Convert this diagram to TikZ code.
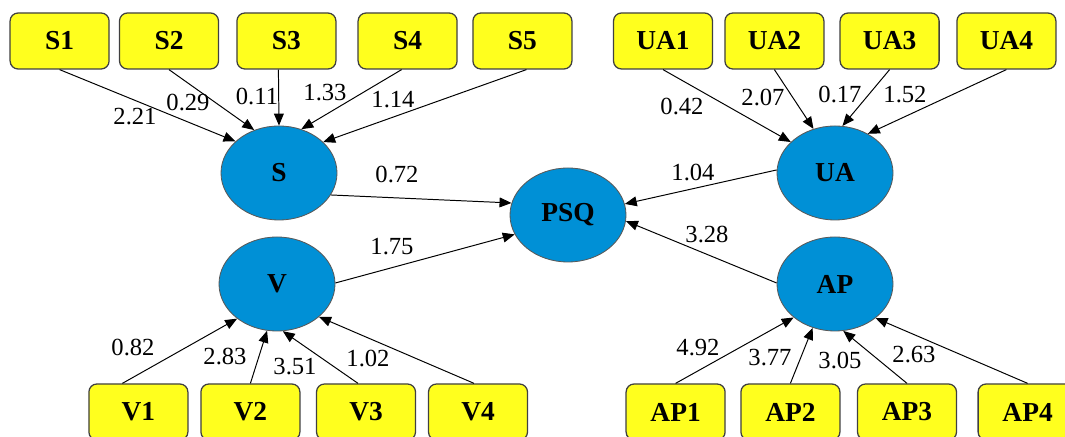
\documentclass[tikz,border=0pt]{standalone}
\usepackage{fontspec}
\setmainfont{Liberation Serif}
\usetikzlibrary{arrows.meta,shapes.geometric}
\definecolor{itemyellow}{RGB}{255,255,30}
\definecolor{latentblue}{RGB}{0,144,214}

\begin{document}
\begin{tikzpicture}[
    item/.style={draw=black!75, line width=0.9pt, fill=itemyellow, rounded corners=2mm,
        minimum width=2.475cm, minimum height=1.4cm, inner sep=0pt,
        font=\fontsize{19.5}{22}\selectfont\bfseries},
    latent/.style={ellipse, draw=black!65, line width=0.6pt, fill=latentblue,
        minimum width=2.9cm, minimum height=2.35cm, inner sep=0pt,
        font=\fontsize{19.5}{22}\selectfont\bfseries},
    wt/.style={inner sep=0pt, font=\fontsize{17.5}{20}\selectfont},
    path/.style={draw, line width=0.7pt, -{Triangle[length=8.5pt,width=7pt]}}
]
    \useasboundingbox (0,0) rectangle (26.625,10.925);
    \clip (0,0) rectangle (26.625,10.925);

    % Latent constructs
    \node[latent] (S) at (6.975, 6.6) {S};
    \node[latent] (V) at (6.925, 3.825) {V};
    \node[latent] (PSQ) at (14.2, 5.55) {PSQ};
    \node[latent] (UA) at (20.875, 6.6) {UA};
    \node[latent] (AP) at (20.875, 3.825) {AP};

    % Top indicators
    \node[item] (S1) at (1.49, 9.9) {S1};
    \node[item] (S2) at (4.225, 9.9) {S2};
    \node[item] (S3) at (7.16, 9.9) {S3};
    \node[item] (S4) at (10.19, 9.9) {S4};
    \node[item] (S5) at (13.06, 9.9) {S5};
    \node[item] (UA1) at (16.575, 9.9) {UA1};
    \node[item] (UA2) at (19.36, 9.9) {UA2};
    \node[item] (UA3) at (22.24, 9.9) {UA3};
    \node[item] (UA4) at (25.16, 9.9) {UA4};

    % Bottom indicators
    \node[item] (V1) at (3.46, 0.625) {V1};
    \node[item] (V2) at (6.26, 0.625) {V2};
    \node[item] (V3) at (9.15, 0.625) {V3};
    \node[item] (V4) at (11.95, 0.625) {V4};
    \node[item] (AP1) at (16.89, 0.625) {AP1};
    \node[item] (AP2) at (19.76, 0.625) {AP2};
    \node[item] (AP3) at (22.675, 0.625) {AP3};
    \node[item] (AP4) at (25.69, 0.625) {AP4};

    % S block
    \draw[path] (S1.south) -- (S.144);
    \draw[path] (S2.south) -- (S.120);
    \draw[path] ([xshift=-2mm]S3.south) -- (S.90);
    \draw[path] ([xshift=-1.5mm]S4.south) -- (S.63);
    \draw[path] ([xshift=1mm]S5.south) -- (S.35);
    \node[wt] (wS1) at (3.375, 8.0) {2.21};
    \node[wt] (wS2) at (4.7, 8.35) {0.29};
    \node[wt] (wS3) at (6.425, 8.5) {0.11};
    \node[wt] (wS4) at (8.125, 8.6) {1.33};
    \node[wt] (wS5) at (9.825, 8.425) {1.14};

    % UA block
    \draw[path] (UA1.south) -- (UA.145);
    \draw[path] (UA2.south) -- (UA.116);
    \draw[path] (UA3.south) -- (UA.81);
    \draw[path] (UA4.south) -- (UA.50);
    \node[wt] (wUA1) at (17.05, 8.25) {0.42};
    \node[wt] (wUA2) at (19.075, 8.475) {2.07};
    \node[wt] (wUA3) at (21.0, 8.55) {0.17};
    \node[wt] (wUA4) at (22.625, 8.55) {1.52};

    % V block
    \draw[path] ([xshift=-4mm]V1.north) -- (V.221);
    \draw[path] (V2.north) -- (V.258);
    \draw[path] ([xshift=-2mm]V3.north) -- (V.277);
    \draw[path] ([xshift=-1mm]V4.north) -- (V.322);
    \node[wt] (wV1) at (3.325, 2.25) {0.82};
    \node[wt] (wV2) at (5.625, 2.025) {2.83};
    \node[wt] (wV3) at (7.375, 1.75) {3.51};
    \node[wt] (wV4) at (9.2, 1.975) {1.02};

    % AP block
    \draw[path] (AP1.north) -- (AP.219);
    \draw[path] (AP2.north) -- (AP.243);
    \draw[path] (AP3.north) -- (AP.280);
    \draw[path] (AP4.north) -- (AP.320);
    \node[wt] (wAP1) at (17.45, 2.225) {4.92};
    \node[wt] (wAP2) at (19.25, 1.975) {3.77};
    \node[wt] (wAP3) at (21.0, 1.925) {3.05};
    \node[wt] (wAP4) at (22.85, 2.05) {2.63};

    % Structural paths
    \draw[path] (S.-23) -- (PSQ.168);
    \draw[path] (V.1) -- (PSQ.200);
    \draw[path] (UA.177) -- (PSQ.11);
    \draw[path] (AP.179) -- (PSQ.354);
    \node[wt] (wS) at (9.925, 6.55) {0.72};
    \node[wt] (wV) at (9.8, 4.75) {1.75};
    \node[wt] (wUA) at (17.325, 6.6) {1.04};
    \node[wt] (wAP) at (17.675, 5.05) {3.28};
\end{tikzpicture}
\end{document}
